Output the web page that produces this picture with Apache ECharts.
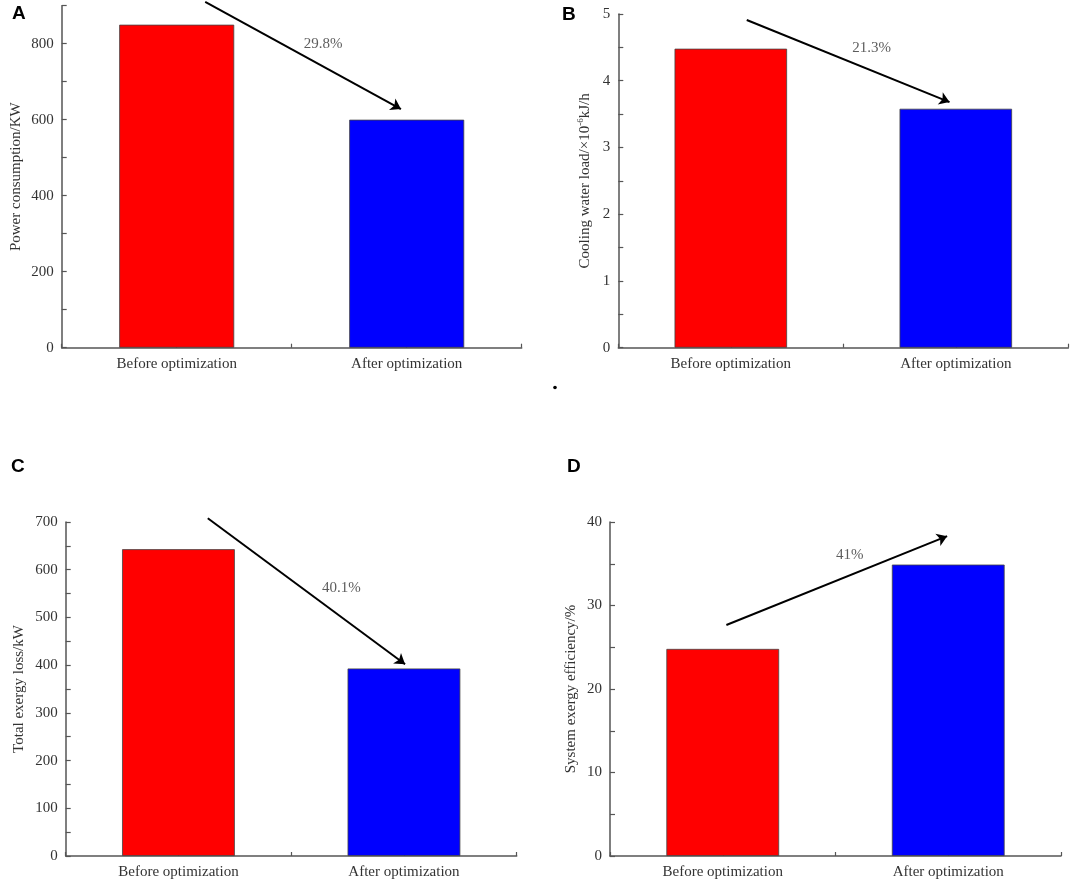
<!DOCTYPE html>
<html><head><meta charset="utf-8">
<script src="https://cdn.jsdelivr.net/npm/echarts@6/dist/echarts.min.js"></script>
<style>html,body{margin:0;padding:0;background:#fff}#c{width:1072px;height:890px}</style>
</head><body><div id="c"></div>
<script>
// ---- data ----
const categories = ['Before optimization', 'After optimization'];
const powerValues = [850, 600];          // A: Power consumption/KW
const coolingValues = [4.48, 3.58];      // B: Cooling water load
const exergyLossValues = [643, 393];     // C: Total exergy loss/kW
const efficiencyValues = [24.8, 34.9];   // D: System exergy efficiency/%
const percentLabels = ['29.8%', '21.3%', '40.1%', '41%'];
const panelLetters = ['A', 'B', 'C', 'D'];
// annotation positions: [category-index units, value units]
const arrowFrom = [[0.124, 910], [0.071, 4.91], [0.130, 708], [0.016, 27.66]];
const arrowTo = [[0.975, 628], [0.972, 3.68], [1.005, 402], [0.995, 38.3]];
const labelPos = [[0.637, 798], [0.626, 4.49], [0.722, 561], [0.563, 36.05]];
const yMax = [900, 5, 700, 40];
const yStep = [100, 0.5, 50, 5];
const yLabelStep = [200, 1, 100, 10];

// ---- layout/styles ----
const SERIF = 'Liberation Serif';
const barColors = ['#FF0000', '#0000FF'];
const grids = [
  {left: 61.7, top: 5.7, width: 460, height: 342},
  {left: 618.3, top: 14, width: 450, height: 333.7},
  {left: 65.7, top: 522, width: 451, height: 334},
  {left: 610, top: 522, width: 451, height: 334}
];
const annoExtend = 5; // px of headroom above each plot for annotations
const yNames = [
  'Power consumption/KW',
  '{n|Cooling water load/×10}{s|-6}{n|kJ/h}',
  'Total exergy loss/kW',
  'System exergy efficiency/%'
];
const nameGaps = [38, 24, 39, 31];
const letterPos = [[12, 4], [562, 5], [11, 457], [567, 457]];
const allValues = [powerValues, coolingValues, exergyLossValues, efficiencyValues];

const axisColor = '#555';
const textColor = '#333';

const gridList = grids.map(g => Object.assign({outerBoundsMode: 'none'}, g));
grids.forEach(g => gridList.push({outerBoundsMode: 'none', left: g.left, top: g.top - annoExtend, width: g.width, height: g.height + annoExtend}));

const xAxis = [], yAxis = [], series = [], title = [];
grids.forEach((g, i) => {
  // x axes: 3i category, 3i+1 tick-only value axis, 3i+2 annotation axis
  xAxis.push({
    type: 'category', gridIndex: i, data: categories,
    axisLine: {lineStyle: {color: axisColor, width: 1.5}},
    axisTick: {show: false},
    axisLabel: {fontFamily: SERIF, fontSize: 15, color: textColor, margin: 9}
  });
  xAxis.push({
    type: 'value', gridIndex: i, min: -0.5, max: 1.5, interval: 0.5, position: 'bottom',
    axisLine: {show: false},
    axisTick: {show: true, inside: true, length: 4, lineStyle: {color: axisColor, width: 1.2}},
    axisLabel: {show: false}, splitLine: {show: false}
  });
  xAxis.push({
    type: 'value', gridIndex: 4 + i, min: -0.5, max: 1.5, show: false
  });
  const step = yLabelStep[i];
  // y axes: 2i main, 2i+1 annotation
  yAxis.push({
    type: 'value', gridIndex: i, min: 0, max: yMax[i], interval: yStep[i],
    axisLine: {show: true, onZero: false, lineStyle: {color: axisColor, width: 1.5}},
    axisTick: {show: true, inside: true, length: 5, lineStyle: {color: axisColor, width: 1.2}},
    axisLabel: {
      fontFamily: SERIF, fontSize: 15, color: textColor, margin: 8,
      formatter: v => (Math.abs(v / step - Math.round(v / step)) < 1e-6 && !(i === 0 && v === 900)) ? String(v) : ''
    },
    splitLine: {show: false},
    name: yNames[i], nameLocation: 'middle', nameGap: nameGaps[i],
    nameTextStyle: {
      fontFamily: SERIF, fontSize: 15, color: textColor,
      rich: {
        n: {fontFamily: SERIF, fontSize: 15, color: textColor, lineHeight: 18},
        s: {fontFamily: SERIF, fontSize: 9, color: textColor, verticalAlign: 'top', lineHeight: 9}
      }
    }
  });
  yAxis.push({
    type: 'value', gridIndex: 4 + i, min: 0,
    max: yMax[i] * (g.height + annoExtend) / g.height, show: false
  });
  series.push({
    type: 'bar', xAxisIndex: 3 * i, yAxisIndex: 2 * i, barWidth: '50%',
    data: allValues[i].map((v, j) => ({value: v, itemStyle: {color: barColors[j]}})),
    itemStyle: {borderColor: '#444', borderWidth: 0.8},
    silent: true
  });
  series.push({
    type: 'scatter', xAxisIndex: 3 * i + 2, yAxisIndex: 2 * i + 1,
    data: [labelPos[i]], symbolSize: 1,
    itemStyle: {color: 'rgba(0,0,0,0)'},
    label: {show: true, position: 'inside', formatter: percentLabels[i], fontFamily: SERIF, fontSize: 15, color: textColor},
    silent: true, z: 5,
    markLine: {
      silent: true, symbol: ['none', 'arrow'], symbolSize: 10,
      lineStyle: {color: '#000', width: 2, type: 'solid'},
      label: {show: false},
      emphasis: {disabled: true},
      data: [[{coord: arrowFrom[i]}, {coord: arrowTo[i]}]]
    }
  });
  title.push({
    text: panelLetters[i], left: letterPos[i][0], top: letterPos[i][1], padding: 0,
    textStyle: {fontFamily: 'Liberation Sans', fontWeight: 'bold', fontSize: 19, color: '#000'}
  });
});

const chart = echarts.init(document.getElementById('c'));
chart.setOption({
  animation: false,
  backgroundColor: '#fff',
  title, grid: gridList, xAxis, yAxis, series,
  graphic: [{type: 'circle', shape: {cx: 555, cy: 387.5, r: 1.8}, style: {fill: '#000'}}]
});
</script>
</body></html>
